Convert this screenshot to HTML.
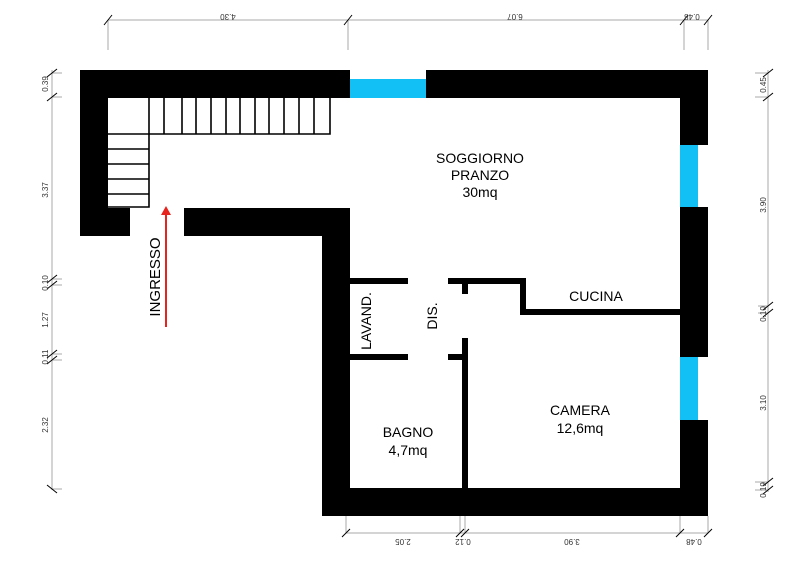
<!DOCTYPE html>
<html><head><meta charset="utf-8"><style>
html,body{margin:0;padding:0;background:#fff;}
svg{display:block;}
text{font-family:"Liberation Sans",Arial,sans-serif;}
</style></head><body>
<svg width="800" height="565" viewBox="0 0 800 565" xmlns="http://www.w3.org/2000/svg">
<!-- walls -->
<g fill="#000">
<rect x="80" y="70" width="270" height="28"/>
<rect x="426" y="70" width="282" height="28"/>
<rect x="80" y="70" width="28" height="166"/>
<rect x="80" y="208" width="50" height="28"/>
<rect x="184" y="208" width="166" height="28"/>
<rect x="322" y="208" width="28" height="308"/>
<rect x="322" y="488" width="386" height="28"/>
<rect x="680" y="70" width="28" height="75"/>
<rect x="680" y="207" width="28" height="150"/>
<rect x="680" y="420" width="28" height="96"/>
<rect x="350" y="278" width="58" height="6"/>
<rect x="448" y="278" width="78" height="6"/>
<rect x="520" y="278" width="6" height="37"/>
<rect x="520" y="309" width="160" height="6"/>
<rect x="462" y="284" width="6" height="10"/>
<rect x="350" y="354" width="58" height="6"/>
<rect x="448" y="354" width="20" height="6"/>
<rect x="462" y="338" width="6" height="150"/>
</g>
<g fill="#12c0f5">
<rect x="350" y="79" width="76" height="19"/>
<rect x="680" y="145" width="18" height="62"/>
<rect x="680" y="357" width="18" height="63"/>
</g>
<!-- stairs -->
<g stroke="#000" stroke-width="1.6" fill="none">
<polyline points="149,98 149,134 330,134 330,98"/>
<line x1="164" y1="98" x2="164" y2="134"/><line x1="182" y1="98" x2="182" y2="134"/>
<line x1="196" y1="98" x2="196" y2="134"/><line x1="211" y1="98" x2="211" y2="134"/>
<line x1="226" y1="98" x2="226" y2="134"/><line x1="240" y1="98" x2="240" y2="134"/>
<line x1="255" y1="98" x2="255" y2="134"/><line x1="269" y1="98" x2="269" y2="134"/>
<line x1="284" y1="98" x2="284" y2="134"/><line x1="299" y1="98" x2="299" y2="134"/>
<line x1="314" y1="98" x2="314" y2="134"/>
<polyline points="108,134 149,134 149,207 108,207"/>
<line x1="108" y1="149" x2="149" y2="149"/><line x1="108" y1="164" x2="149" y2="164"/>
<line x1="108" y1="179" x2="149" y2="179"/><line x1="108" y1="194" x2="149" y2="194"/>
</g>
<!-- arrow -->
<line x1="166" y1="327" x2="166" y2="214" stroke="#e8221c" stroke-width="2"/>
<polygon points="166,206 161,215 171,215" fill="#e8221c"/>
<!-- labels -->
<g font-size="14" fill="#000" text-anchor="middle">
<text x="480" y="163">SOGGIORNO</text>
<text x="480" y="180">PRANZO</text>
<text x="480" y="197">30mq</text>
<text x="596" y="301">CUCINA</text>
<text x="580" y="415">CAMERA</text>
<text x="580" y="433">12,6mq</text>
<text x="408" y="437">BAGNO</text>
<text x="408" y="455">4,7mq</text>
<text transform="translate(371,321) rotate(-90)">LAVAND.</text>
<text transform="translate(437,316) rotate(-90)">DIS.</text>
<text transform="translate(160,277) rotate(-90)" font-size="15">INGRESSO</text>
</g>
<!-- dimensions -->
<g stroke="#aaa" stroke-width="1" fill="none">
<line x1="108" y1="20" x2="708" y2="20"/>
<line x1="108" y1="20" x2="108" y2="50"/><line x1="348" y1="20" x2="348" y2="50"/>
<line x1="684" y1="20" x2="684" y2="50"/><line x1="708" y1="20" x2="708" y2="50"/>
<line x1="52" y1="70" x2="52" y2="490"/>
<line x1="52" y1="73" x2="62" y2="73"/><line x1="52" y1="97" x2="62" y2="97"/>
<line x1="52" y1="279" x2="62" y2="279"/><line x1="52" y1="285" x2="62" y2="285"/>
<line x1="52" y1="354" x2="62" y2="354"/><line x1="52" y1="360" x2="62" y2="360"/>
<line x1="52" y1="489" x2="62" y2="489"/>
<line x1="768" y1="70" x2="768" y2="492"/>
<line x1="755" y1="73" x2="768" y2="73"/><line x1="755" y1="97" x2="768" y2="97"/>
<line x1="758" y1="306" x2="768" y2="306"/><line x1="758" y1="313" x2="768" y2="313"/>
<line x1="755" y1="482" x2="768" y2="482"/><line x1="755" y1="490" x2="768" y2="490"/>
<line x1="346" y1="533" x2="708" y2="533"/>
<line x1="346" y1="516" x2="346" y2="533"/><line x1="460" y1="516" x2="460" y2="533"/>
<line x1="465" y1="516" x2="465" y2="533"/><line x1="680" y1="516" x2="680" y2="533"/>
<line x1="708" y1="516" x2="708" y2="533"/>
</g>
<g stroke="#000" stroke-width="1">
<line x1="104" y1="25" x2="112" y2="15"/><line x1="344" y1="25" x2="352" y2="15"/>
<line x1="680" y1="25" x2="688" y2="15"/><line x1="704" y1="25" x2="712" y2="15"/>
<line x1="47" y1="77" x2="57" y2="69"/><line x1="47" y1="101" x2="57" y2="93"/>
<line x1="47" y1="283" x2="57" y2="275"/><line x1="47" y1="289" x2="57" y2="281"/>
<line x1="47" y1="358" x2="57" y2="350"/><line x1="47" y1="364" x2="57" y2="356"/>
<line x1="47" y1="485" x2="57" y2="493"/>
<line x1="763" y1="77" x2="773" y2="69"/><line x1="763" y1="101" x2="773" y2="93"/>
<line x1="763" y1="310" x2="773" y2="302"/><line x1="763" y1="317" x2="773" y2="309"/>
<line x1="763" y1="486" x2="773" y2="478"/><line x1="763" y1="494" x2="773" y2="486"/>
<line x1="342" y1="537" x2="350" y2="529"/><line x1="456" y1="537" x2="464" y2="529"/>
<line x1="461" y1="537" x2="469" y2="529"/><line x1="676" y1="537" x2="684" y2="529"/>
<line x1="704" y1="537" x2="712" y2="529"/>
</g>
<g font-size="8" fill="#333" text-anchor="middle">
<text transform="translate(228,14) rotate(180)">4.30</text>
<text transform="translate(515,14) rotate(180)">6.07</text>
<text transform="translate(692,14) rotate(180)">0.48</text>
<text transform="translate(403,539) rotate(180)">2.05</text>
<text transform="translate(463,539) rotate(180)">0.12</text>
<text transform="translate(572,539) rotate(180)">3.90</text>
<text transform="translate(694,539) rotate(180)">0.48</text>
<text transform="translate(48,84) rotate(-90)">0.39</text>
<text transform="translate(48,190) rotate(-90)">3.37</text>
<text transform="translate(48,283) rotate(-90)">0.10</text>
<text transform="translate(48,320) rotate(-90)">1.27</text>
<text transform="translate(48,357) rotate(-90)">0.11</text>
<text transform="translate(48,425) rotate(-90)">2.32</text>
<text transform="translate(766,85) rotate(-90)">0.45</text>
<text transform="translate(766,205) rotate(-90)">3.90</text>
<text transform="translate(766,314) rotate(-90)">0.10</text>
<text transform="translate(766,403) rotate(-90)">3.10</text>
<text transform="translate(766,490) rotate(-90)">0.19</text>
</g>
</svg>
</body></html>
